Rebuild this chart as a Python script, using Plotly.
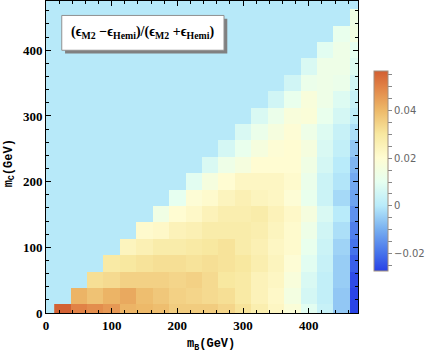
import numpy as np
import plotly.graph_objects as go

# grid: mB columns, mC rows (GeV)
mB = list(range(25, 476, 25))
mC = list(range(0, 476, 25))

# values per mC row, for mB from mC+25 up to 475
rows = {
    0:   [0.056, 0.050, 0.048, 0.046, 0.041, 0.040, 0.039, 0.036, 0.036, 0.036, 0.034, 0.031, 0.027, 0.023, 0.018, 0.009, 0.003, -0.006, -0.027],
    25:  [0.041, 0.038, 0.041, 0.043, 0.039, 0.037, 0.035, 0.034, 0.033, 0.032, 0.029, 0.025, 0.022, 0.015, 0.006, 0.002, -0.006, -0.027],
    50:  [0.032, 0.033, 0.035, 0.035, 0.035, 0.034, 0.035, 0.033, 0.030, 0.029, 0.025, 0.023, 0.017, 0.007, 0.002, -0.005, -0.026],
    75:  [0.029, 0.030, 0.031, 0.032, 0.032, 0.031, 0.032, 0.031, 0.030, 0.027, 0.024, 0.019, 0.009, 0.003, -0.005, -0.023],
    100: [0.024, 0.026, 0.028, 0.028, 0.029, 0.030, 0.031, 0.028, 0.026, 0.023, 0.021, 0.011, 0.004, -0.004, -0.020],
    125: [0.021, 0.022, 0.025, 0.026, 0.028, 0.028, 0.028, 0.027, 0.024, 0.021, 0.013, 0.005, -0.002, -0.018],
    150: [0.014, 0.020, 0.022, 0.025, 0.027, 0.027, 0.028, 0.025, 0.022, 0.016, 0.007, 0.000, -0.015],
    175: [0.010, 0.019, 0.021, 0.024, 0.026, 0.024, 0.023, 0.019, 0.011, 0.004, -0.003, -0.012],
    200: [0.009, 0.016, 0.020, 0.023, 0.023, 0.023, 0.021, 0.012, 0.004, -0.001, -0.011],
    225: [0.007, 0.013, 0.016, 0.020, 0.020, 0.020, 0.014, 0.006, 0.000, -0.009],
    250: [0.006, 0.011, 0.016, 0.019, 0.020, 0.016, 0.007, 0.002, -0.006],
    275: [0.007, 0.012, 0.016, 0.019, 0.013, 0.008, 0.003, -0.002],
    300: [0.007, 0.012, 0.017, 0.018, 0.011, 0.006, 0.001],
    325: [0.005, 0.011, 0.017, 0.013, 0.008, 0.003],
    350: [0.005, 0.012, 0.013, 0.012, 0.005],
    375: [0.007, 0.013, 0.013, 0.008],
    400: [0.009, 0.013, 0.010],
    425: [0.011, 0.015],
    450: [0.014],
}

z = []
for c in mC:
    vals = rows.get(c, [])
    z.append([np.nan] * (len(mB) - len(vals)) + vals)

zmin, zmax = -0.0275, 0.0565
stops = [(-0.0275, "#2841e6"), (-0.02, "#4673eb"), (-0.01, "#78aff0"), (0.0, "#b9ebfa"),
         (0.01, "#e6fff0"), (0.02, "#fffcd2"), (0.03, "#f8e8a0"), (0.04, "#edb969"),
         (0.05, "#e18246"), (0.0565, "#d25f32")]
cscale = [[(v - zmin) / (zmax - zmin), c] for v, c in stops]

cb_vals = [round(v, 3) for v in np.arange(-0.025, 0.0551, 0.005)]
cb_text = [{-0.02: "\u22120.02", 0.0: "0", 0.02: "0.02", 0.04: "0.04"}.get(v, "") for v in cb_vals]

fig = go.Figure(go.Heatmap(
    x=mB, y=mC, z=z, zmin=zmin, zmax=zmax, colorscale=cscale, hoverongaps=False,
    colorbar=dict(x=1.051, xanchor="left", xpad=0, y=0.454, yanchor="middle", ypad=0,
                  lenmode="pixels", len=200, thickness=14, outlinecolor="#a09080", outlinewidth=1,
                  tickvals=cb_vals, ticktext=cb_text, ticks="outside", ticklen=4,
                  tickcolor="#888", tickfont=dict(family="DejaVu Sans", size=10, color="#666")),
))

axis_font = dict(family="Liberation Serif", size=13, color="black")
common = dict(range=[0, 475], showgrid=False, zeroline=False, showline=True, linecolor="black",
              linewidth=1, mirror="ticks", ticks="inside", ticklen=5, tickcolor="black",
              dtick=100, tick0=0, tickfont=axis_font, automargin=False,
              tickprefix="<b>", ticksuffix="</b>",
              minor=dict(ticks="inside", ticklen=3, dtick=20, tickcolor="black"))
fig.update_xaxes(**common)
fig.update_yaxes(**common)

title_font = dict(family="Liberation Mono", size=12, color="black")
fig.add_annotation(x=0.53, y=0, xref="paper", yref="paper", yshift=-32, showarrow=False,
                   text="<b>m<sub>B</sub>(GeV)</b>", font=title_font, yanchor="middle")
fig.add_annotation(x=-0.115, y=0.48, xref="paper", yref="paper", showarrow=False, textangle=-90,
                   text="<b>m<sub>C</sub>(GeV)</b>", font=title_font, xanchor="center")

# label box with shadow
fig.add_shape(type="rect", x0=29, x1=276, y0=395, y1=448, fillcolor="#808080", line_width=0, layer="above")
fig.add_shape(type="rect", x0=24, x1=271, y0=400, y1=453, fillcolor="white",
              line=dict(color="#909090", width=1), layer="above")
fig.add_annotation(x=147.5, y=426.5, xref="x", yref="y", showarrow=False,
                   text="<b>(\u03f5<sub>M2</sub> \u2212\u03f5<sub>Hemi</sub>)/(\u03f5<sub>M2</sub> +\u03f5<sub>Hemi</sub>)</b>",
                   font=dict(family="Liberation Serif", size=14, color="black"))

fig.update_layout(width=425, height=358, margin=dict(l=46, r=67, t=1, b=45, autoexpand=False),
                  plot_bgcolor="#b7e9f9", paper_bgcolor="white", showlegend=False)

fig.write_html("out.html", config={"displayModeBar": False},
               post_script="document.body.style.margin='0';")
